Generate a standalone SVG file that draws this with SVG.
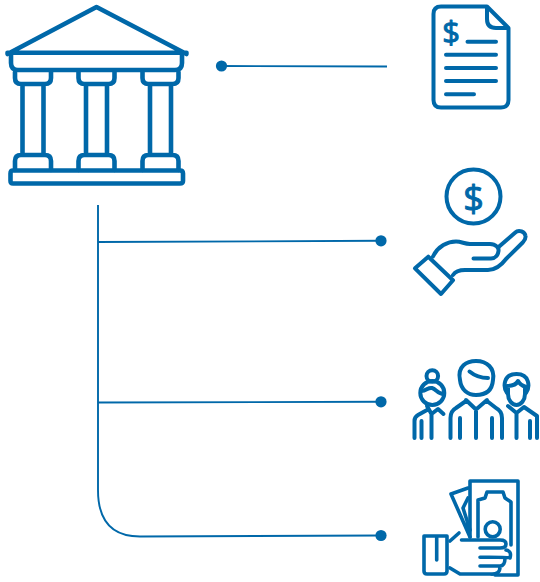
<svg xmlns="http://www.w3.org/2000/svg" width="540" height="582" viewBox="0 0 540 582">
<style>
.i{fill:none;stroke:#0068a9;stroke-linecap:round;stroke-linejoin:round}
.b{stroke-width:4.6}.m{stroke-width:4}.t{stroke-width:3.6}
.c{fill:none;stroke:#0068a9;stroke-width:1.9}
.d{fill:#0068a9}
.s{font-family:"Open Sans","Liberation Sans",sans-serif;font-weight:400;fill:#0068a9;stroke:#0068a9;stroke-width:1;text-anchor:middle}
</style>
<defs>
<g id="col">
<path d="M-18 72V78Q-18 84 -12 84H12Q18 84 18 78V72M-10.500 85V155M10.500 85V155M-18 170V161Q-18 155 -12 155H12Q18 155 18 161V170"/>
</g>
</defs>
<g id="connectors">
<path class="c" d="M221 66L387 66.500"/>
<path class="c" d="M98 205V490Q98 536.500 140 536.500L381 535.500"/>
<path class="c" d="M98 242L381 240.800"/>
<path class="c" d="M98 402.500L381 401.800"/>
<circle class="d" cx="221.500" cy="66" r="5.600"/>
<circle class="d" cx="381" cy="240.800" r="5.600"/>
<circle class="d" cx="381" cy="401.800" r="5.600"/>
<circle class="d" cx="381" cy="535.500" r="5.600"/>
</g>
<g id="bank" class="i b">
<path d="M7.500 54L96.500 7L186.500 54M7.500 52.800H186.500"/>
<path d="M11 54V63Q11 70 18 70H175Q182 70 182 63V54"/>
<use href="#col" x="33"/><use href="#col" x="96.500"/><use href="#col" x="160.500"/>
<path d="M13 170.500H180Q183 170.500 183 173.500V181Q183 183.500 180 183.500H13Q10.500 183.500 10.500 181V173.500Q10.500 170.500 13 170.500Z"/>
</g>
<g id="document" class="i m">
<path d="M487 6.500H441Q433.500 6.500 433.500 14V100Q433.500 107.500 441 107.500H501Q508.500 107.500 508.500 100V28L487 6.500V19Q487 28 496 28H508.500"/>
<path d="M467.500 41.700H496M446 54.700H496M446 68H496M446 81H496M446 94.300H474"/>
<text class="s" x="451" y="43" font-size="31">$</text>
</g>
<g id="hand" class="i m">
<circle cx="473.500" cy="196.500" r="27"/>
<text class="s" x="473.500" y="211" font-size="36">$</text>
<path d="M415 268.300L428.300 256.700L453 280.300L441 294Z"/>
<path d="M433 256.500C438 246 448 241.500 456 241.500C462 241.500 464 244 470 244H490C496 244 499 248 498.500 251C498 255 495.500 258.500 491 258.500H473.500"/>
<path d="M498.300 247.300L515 232.700C519 229 525 232 525.500 236C526 239 524.500 240.500 522.700 242.500L506 259C500 267 495 270 488 270H465C458 270 455 272 453 275"/>
</g>
<g id="people" class="i m">
<circle cx="432.300" cy="376" r="5.800"/>
<circle cx="432.300" cy="393" r="12"/>
<path d="M421 391C427 391 428 387 432 388C436 389 438 394 443.500 394"/>
<path d="M427 406L431.500 414L438 409L443.500 414M414.500 438V421Q414.500 417 418 415L427 410M421.500 438V421M431.500 414V438"/>
<path d="M460 380C457 366 467 361 476 361C487 361 495 368 493 380C492 392 484 395 476 395C468 395 461 390 460 380Z"/>
<path d="M469.500 371.500C475 376 481 378 488 378"/>
<path d="M466 400L476 409.500L487 400M450.500 438V418Q450.500 411 456 408L466 401M460 438V418M476 409.500V438M492 438V418M502 438V418Q502 411 496 408L487 401"/>
<path d="M507 393C503 387 503 374 516.500 374C530 374 530 387 526 393"/>
<path d="M507 386C512 386 516 385 518 381C520 385 523 386 526 387M508 388V394C508 400 512 405 516.500 405C521 405 525 400 525 394V388"/>
<path d="M508 406L516.500 413L524 407L537 416V438M516.500 413V438M530 438V421"/>
</g>
<g id="money" class="i t">
<path d="M470 537V481H518V575H495"/>
<path d="M478 537V500L485 498L487 492H503L505 498L511 502V545"/>
<circle cx="492.700" cy="529.300" r="7.500"/>
<path d="M470 537L451 494L468 488M468 498L463 508L470 530"/>
<path d="M424 536H447V571Q447 574 444 574H427Q424 574 424 571V536ZM436.700 538V560"/>
<path d="M450 541L459 533M461.500 540H500Q506 540 506 544Q506 548 500 548H480"/>
<path d="M506 550Q512 551 510 558Q509 557 480 557.300"/>
<path d="M505 558Q505 566 500 566H480M500 567Q500 575 490 574L460 574L450 568"/>
</g>
</svg>
